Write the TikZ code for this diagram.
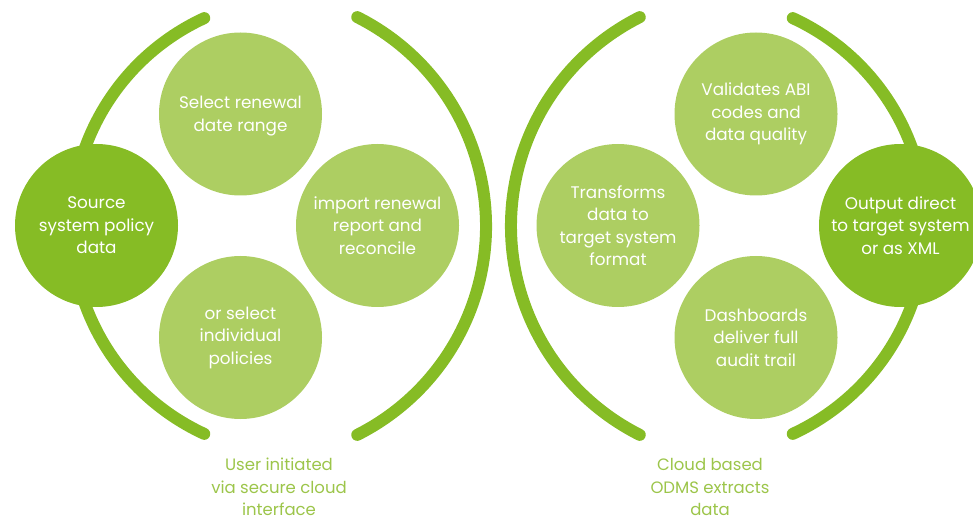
\documentclass[tikz,border=0pt]{standalone}
\usepackage{fontspec}
\setmainfont{Poppins}
\definecolor{darkgreen}{HTML}{86BC25}
\definecolor{lightgreen}{HTML}{ADCE62}
\definecolor{labelgreen}{HTML}{9CC54A}
\begin{document}
\begin{tikzpicture}[x=1pt,y=1pt,
  bracket/.style={draw=darkgreen,line width=12pt,line cap=round},
  bubble/.style={circle,minimum size=163pt,inner sep=0pt,text=white,align=center,
    font=\fontsize{16.8}{22.5}\selectfont},
  darkbubble/.style={bubble,fill=darkgreen},
  lightbubble/.style={bubble,fill=lightgreen},
  caption/.style={text=labelgreen,align=center,font=\fontsize{16.5}{22.5}\selectfont}]
\useasboundingbox (0,0) rectangle (973,522);
% left group brackets
\draw[bracket] (300.3,296) ++(114.8:229) arc[start angle=114.8,end angle=245.2,radius=229];
\draw[bracket] (252.2,296) ++(63.3:233.8) arc[start angle=63.3,end angle=-63.3,radius=233.8];
% right group brackets
\draw[bracket] (744.8,296) ++(116.7:233.8) arc[start angle=116.7,end angle=243.3,radius=233.8];
\draw[bracket] (696.7,296) ++(65.2:229) arc[start angle=65.2,end angle=-65.2,radius=229];
% left group
\node[darkbubble] (src) at (96.5,296.5) {Source\\system policy\\data};
\node[lightbubble,text depth=0pt] (range) at (240.5,408) {Select renewal\\date range};
\node[lightbubble] (import) at (377.5,296.5) {import renewal\\report and\\reconcile};
\node[lightbubble] (indiv) at (240.5,184.5) {or select\\individual\\policies};
\node[caption] (user) at (279,35) {User initiated\\via secure cloud\\interface};
% right group
\node[darkbubble] (out) at (900.5,296.5) {Output direct\\to target system\\or as XML};
\node[lightbubble] (valid) at (756,408) {Validates ABI\\codes and\\data quality};
\node[lightbubble] (trans) at (618,296.5) {Transforms\\data to\\target system\\format};
\node[lightbubble] (dash) at (756,184.5) {Dashboards\\deliver full\\audit trail};
\node[caption] (cloud) at (710,35) {Cloud based\\ODMS extracts\\data};
\end{tikzpicture}
\end{document}
